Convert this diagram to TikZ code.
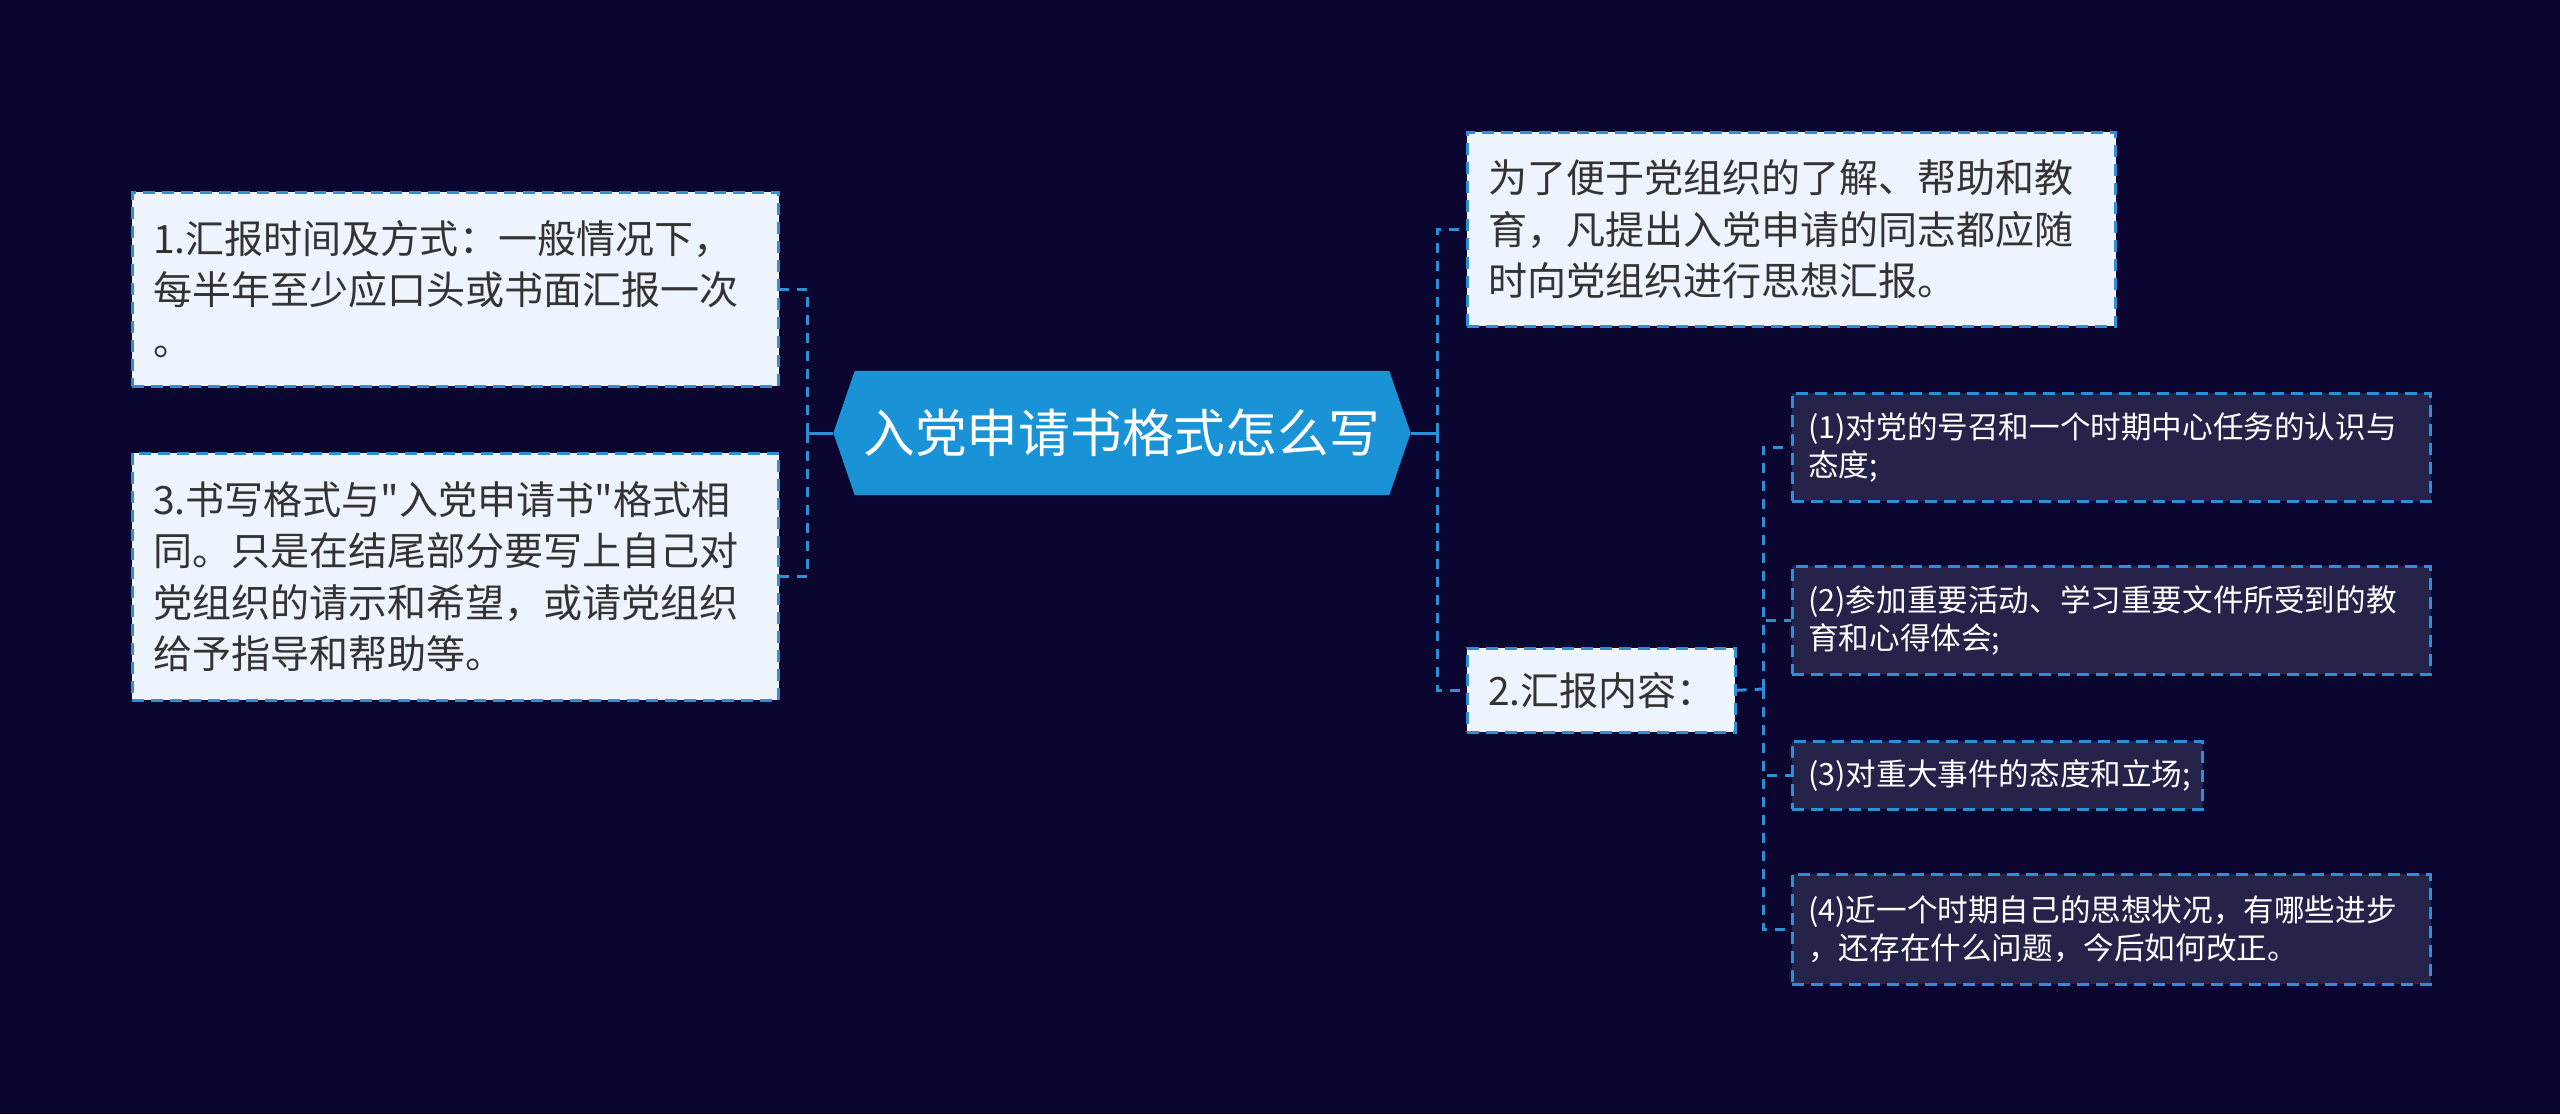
\documentclass[tikz,border=0pt]{standalone}
\usepackage{fontspec}
\setmainfont{Noto Sans CJK SC}[Ligatures=TeXOff]
\usetikzlibrary{shapes.symbols}
\definecolor{bgc}{HTML}{0A0630}
\definecolor{linec}{HTML}{2E8FD6}
\definecolor{lightc}{HTML}{EEF4FD}
\definecolor{hubc}{HTML}{1A93D6}
\definecolor{subc}{HTML}{26234A}
\definecolor{darkc}{HTML}{333333}
\tikzset{
  lbox/.style = {draw=linec, dash pattern=on 0.12cm off 0.07cm, line width=0.025cm,
                 fill=lightc, text=darkc, align=left, anchor=north west,
                 inner xsep=0.21cm, inner ysep=0pt, font=\fontsize{11.1}{14.6}\selectfont},
  sbox/.style = {lbox, fill=subc, text=white, inner xsep=0.16cm,
                 font=\fontsize{8.7}{10.7}\selectfont},
  hub/.style  = {signal, signal to=west and east, signal pointer angle=142,
                 fill=hubc, text=white, minimum width=5.77cm, minimum height=1.24cm,
                 inner sep=0pt, font=\fontsize{14.7}{17}\selectfont},
  conn/.style = {draw=linec, line width=0.03cm, dash pattern=on 0.1cm off 0.08cm},
  link/.style = {draw=linec, line width=0.03cm}
}

\begin{document}
\begin{tikzpicture}[x=0.01cm, y=-0.01cm]
% ---- page ----
\fill[bgc] (0,0) rectangle (2560,1114);
\useasboundingbox (0,0) rectangle (2560,1114);

% ---- hub ----
\node[hub] (ctr) at (1122,433) {入党申请书格式怎么写};

% ---- left branches ----
\node[lbox, text width=6.04cm, minimum height=1.94cm] (b1) at (131,191)
  {1.汇报时间及方式：一般情况下，\\每半年至少应口头或书面汇报一次\\。};
\node[lbox, text width=6.04cm, minimum height=2.47cm] (b3) at (131,452)
  {3.书写格式与"入党申请书"格式相\\同。只是在结尾部分要写上自己对\\党组织的请示和希望，或请党组织\\给予指导和帮助等。};

% ---- right branches ----
\node[lbox, text width=6.06cm, minimum height=1.94cm] (t1) at (1466,131)
  {为了便于党组织的了解、帮助和教\\育，凡提出入党申请的同志都应随\\时向党组织进行思想汇报。};
\node[lbox, text width=2.26cm, minimum height=0.84cm] (b2) at (1466,647) {2.汇报内容：};

% ---- report items ----
\node[sbox, text width=6.06cm, minimum height=1.08cm] (s1) at (1791,392)
  {(1)对党的号召和一个时期中心任务的认识与\\态度;};
\node[sbox, text width=6.06cm, minimum height=1.08cm] (s2) at (1791,565)
  {(2)参加重要活动、学习重要文件所受到的教\\育和心得体会;};
\node[sbox, text width=3.78cm, minimum height=0.68cm] (s3) at (1791,740)
  {(3)对重大事件的态度和立场;};
\node[sbox, text width=6.06cm, minimum height=1.10cm] (s4) at (1791,873)
  {(4)近一个时期自己的思想状况，有哪些进步\\，还存在什么问题，今后如何改正。};

% ---- junctions ----
\coordinate (jl) at (807,433);
\coordinate (jr) at (1437,433);
\coordinate (js) at (1763,689);

% ---- connectors ----
\draw[link] (ctr.west) -- (jl);
\draw[conn] (jl) |- (b1.east);
\draw[conn] (jl) |- (b3.east);
\draw[link] (ctr.east) -- (jr);
\draw[conn] (jr) |- (t1.west);
\draw[conn] (jr) |- (b2.west);
\draw[conn] (b2.east) -- (js);
\foreach \s in {s1,s2,s3,s4}
  \draw[conn] (js) |- (\s.west);
\end{tikzpicture}
\end{document}
